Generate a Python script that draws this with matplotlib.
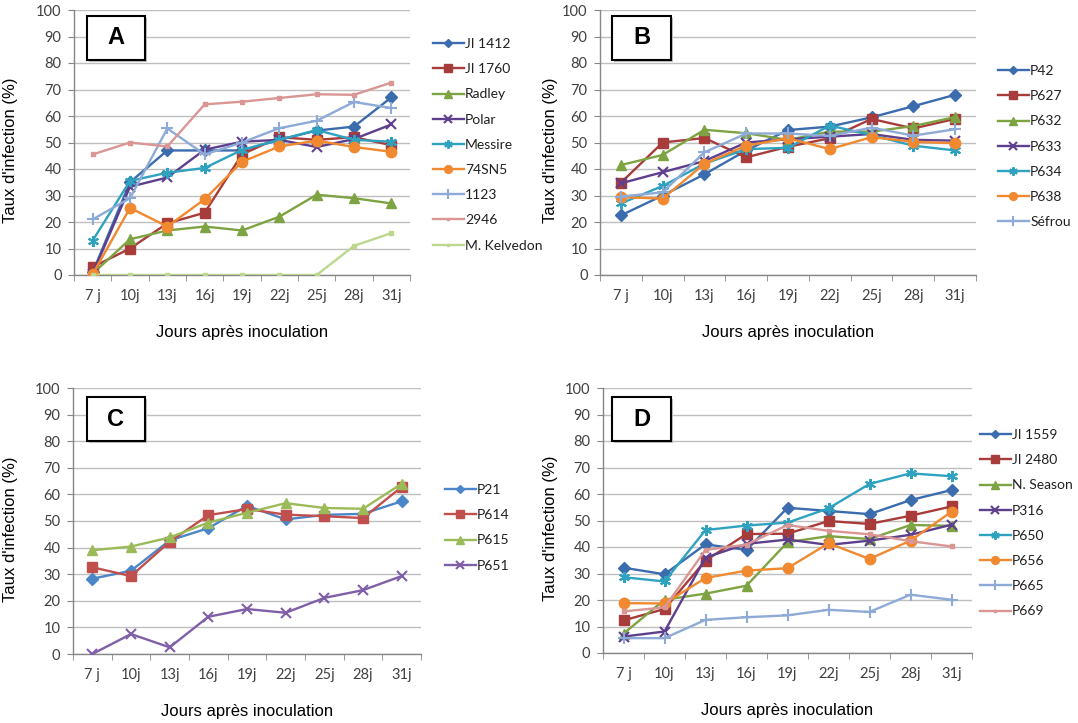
import numpy as np
import matplotlib
matplotlib.use("Agg")
from matplotlib import pyplot as plt
from matplotlib.patches import Rectangle

# categories (days after inoculation)
jours = ['7 j', '10j', '13j', '16j', '19j', '22j', '25j', '28j', '31j']

# Panel A
a_labels = ['JI 1412', 'JI 1760', 'Radley', 'Polar', 'Messire', '74SN5', '1123', '2946', 'M. Kelvedon']
a_ji1412 = [1, 35, 47, 47, 47, 51, 54.5, 56, 67]
a_ji1760 = [3, 10, 19.5, 23.5, 45.5, 52, 51, 52, 49]
a_radley = [0.5, 13.5, 16.8, 18.3, 16.8, 22, 30.3, 29, 27]
a_polar = [0.5, 33.3, 36.8, 47.3, 50.3, 51, 48.3, 51.3, 56.8]
a_messire = [13, 35.5, 38.6, 40.4, 47.2, 51, 54.7, 51, 50.3]
a_74sn5 = [0.3, 25.3, 18.3, 28.6, 42.7, 48.5, 50.7, 48.3, 46.5]
a_1123 = [21, 29, 55.3, 45.5, 50, 55.4, 58.2, 65.3, 63]
a_2946 = [45.5, 50, 48.5, 64.4, 65.4, 66.8, 68.2, 68, 72.6]
a_kelvedon = [0, 0, 0, 0, 0, 0, 0, 11, 15.8]

# Panel B
b_labels = ['P42', 'P627', 'P632', 'P633', 'P634', 'P638', 'Séfrou']
b_p42 = [22.5, 30, 38, 47, 54.7, 56, 59.5, 63.7, 68]
b_p627 = [34.8, 50, 51.7, 44.4, 48.4, 51.6, 58.9, 55.3, 58.9]
b_p632 = [41.5, 45.3, 54.8, 53.5, 51, 54.1, 54.1, 56.2, 59.6]
b_p633 = [34.6, 38.8, 43, 50, 51.2, 52.2, 53.2, 51, 50.7]
b_p634 = [27, 33.6, 42, 47.5, 48, 56.4, 52.8, 48.8, 47]
b_p638 = [29.4, 28.8, 42, 48.8, 51.6, 47.5, 52, 50.3, 49.7]
b_sefrou = [29.6, 31.2, 46.3, 53.4, 53.4, 52.5, 55.6, 52.6, 55]

# Panel C
c_labels = ['P21', 'P614', 'P615', 'P651']
c_p21 = [28.3, 31.3, 42.7, 47.3, 55.7, 50.6, 52.3, 52.7, 57.4]
c_p614 = [32.6, 29.3, 42.2, 52.2, 54.5, 52.4, 51.8, 51.1, 62.8]
c_p615 = [39, 40.4, 43.8, 49.4, 53.1, 56.7, 54.9, 54.6, 64]
c_p651 = [0, 7.5, 2.5, 14, 16.9, 15.5, 21.1, 24, 29.3]

# Panel D
d_labels = ['JI 1559', 'JI 2480', 'N. Season', 'P316', 'P650', 'P656', 'P665', 'P669']
d_ji1559 = [32.2, 29.7, 41, 38.9, 54.8, 53.6, 52.4, 57.7, 61.5]
d_ji2480 = [12.3, 16.6, 34.9, 44.9, 45, 49.8, 48.7, 51.8, 55.3]
d_nseason = [7.3, 20.1, 22.4, 25.4, 41.8, 44.1, 43, 48.3, 48]
d_p316 = [6.2, 8.1, 36, 41.2, 42.8, 40.8, 42.4, 44.6, 48.4]
d_p650 = [28.6, 27, 46.4, 48.1, 49.2, 54.6, 63.8, 67.8, 66.7]
d_p656 = [18.8, 18.7, 28.3, 31.1, 32, 41.4, 35.5, 42.4, 53.3]
d_p665 = [5.6, 5.6, 12.5, 13.5, 14.2, 16.3, 15.5, 22, 20.1]
d_p669 = [15.7, 17.2, 38.9, 40.9, 48.3, 46.1, 44.8, 42.2, 40.2]

# styles per series position (Excel 2007 look)
dark_cols = ['#3A6CAE', '#A73C3A', '#7EA342', '#5E3F8D', '#2FA2BF', '#F0892F', '#8DABD6', '#D99694', '#BDD78F']
light_cols = ['#4A86C8', '#C0504D', '#9BBB59', '#7F5FA8', '#4BACC6', '#F79646', '#95B3D7', '#D99694', '#C3D69B']
markers = ['D', 's', '^', 'x', (6, 2, 0), 'o', '+', 's', 's']
msizes = [6, 7.5, 7.5, 7, 8, 7.5, 9, 2.5, 2.5]

W, H = 1078, 723
fig = plt.figure(figsize=(W / 100, H / 100), dpi=100)
tick_font = 'Lato'
label_font = 'Liberation Sans'


def make_panel(left, right, top, bottom, series, labels, cols, letter, box, leg_xy, ylab_x):
    ax = fig.add_axes([left / W, 1 - bottom / H, (right - left) / W, (bottom - top) / H])
    x = np.arange(len(jours))
    for i, (vals, lab) in enumerate(zip(series, labels)):
        mew = 1.5 if markers[i] in ('x', '+') or isinstance(markers[i], tuple) else 1
        ax.plot(x, vals, color=cols[i], lw=1.7, marker=markers[i], markersize=msizes[i],
                mfc=cols[i], mec=cols[i], mew=mew, label=lab, zorder=3 + i * 0.01)
    ax.set_xlim(-0.5, len(jours) - 0.5)
    ax.set_ylim(0, 100)
    ax.set_yticks(np.arange(0, 101, 10))
    ax.set_xticks(x)
    ax.set_xticklabels(jours)
    ax.set_xticks(np.arange(-0.5, len(jours), 1), minor=True)
    ax.tick_params(axis='x', which='major', length=0, pad=10, labelsize=10.5, labelcolor='#404040')
    ax.tick_params(axis='x', which='minor', length=4, color='#868686')
    ax.tick_params(axis='y', length=4, color='#868686', pad=5, labelsize=10.5, labelcolor='#404040')
    for t in ax.get_xticklabels() + ax.get_yticklabels():
        t.set_fontfamily(tick_font)
    ax.grid(axis='y', color='#BFBFBF', lw=1)
    ax.set_axisbelow(True)
    for s in ['top', 'right']:
        ax.spines[s].set_visible(False)
    for s in ['left', 'bottom']:
        ax.spines[s].set_color('#868686')
        ax.spines[s].set_linewidth(1)
    ax.set_ylabel("Taux d'infection (%)", fontsize=12, family=label_font, color='#000000')
    ax.yaxis.set_label_coords((ylab_x - left) / (right - left), 0.47)
    ax.set_xlabel('Jours après inoculation', fontsize=12, family=label_font, color='#000000')
    ax.xaxis.set_label_coords(0.5, -(50) / (bottom - top))
    leg = ax.legend(loc='upper left', bbox_to_anchor=(leg_xy[0] / W, 1 - leg_xy[1] / H),
                    bbox_transform=fig.transFigure, frameon=False, handlelength=2.2,
                    handletextpad=0.12, labelspacing=0.95, borderpad=0, borderaxespad=0,
                    prop={'family': tick_font, 'size': 10}, markerscale=0.75)
    for t in leg.get_texts():
        t.set_color('#202020')
    # letter box
    bx0, bx1, by0, by1 = box
    fig.patches.append(Rectangle((bx0 / W + 0.002, 1 - by1 / H - 0.003), (bx1 - bx0) / W, (by1 - by0) / H,
                                 transform=fig.transFigure, facecolor='#BFBFBF', edgecolor='none', zorder=5))
    fig.patches.append(Rectangle((bx0 / W, 1 - by1 / H), (bx1 - bx0) / W, (by1 - by0) / H,
                                 transform=fig.transFigure, facecolor='white', edgecolor='black', lw=1.5, zorder=6))
    fig.text((bx0 + bx1) / 2 / W, 1 - (by0 + by1) / 2 / H, letter, ha='center', va='center',
             fontsize=17, fontweight='bold', family=label_font, zorder=7)
    return ax


make_panel(74, 410, 10, 275,
           [a_ji1412, a_ji1760, a_radley, a_polar, a_messire, a_74sn5, a_1123, a_2946, a_kelvedon],
           a_labels, dark_cols, 'A', (87, 145, 16, 60), (433, 38), 18)
make_panel(600, 976, 10, 275,
           [b_p42, b_p627, b_p632, b_p633, b_p634, b_p638, b_sefrou],
           b_labels, dark_cols, 'B', (612, 671, 16, 60), (998, 65), 558)
make_panel(73, 421, 388, 654,
           [c_p21, c_p614, c_p615, c_p651],
           c_labels, light_cols, 'C', (87, 145, 397, 441), (445, 484), 18)
make_panel(603, 972, 388, 653,
           [d_ji1559, d_ji2480, d_nseason, d_p316, d_p650, d_p656, d_p665, d_p669],
           d_labels, dark_cols, 'D', (612, 671, 397, 441), (980, 429), 558)

plt.savefig('out.png', dpi=100)
